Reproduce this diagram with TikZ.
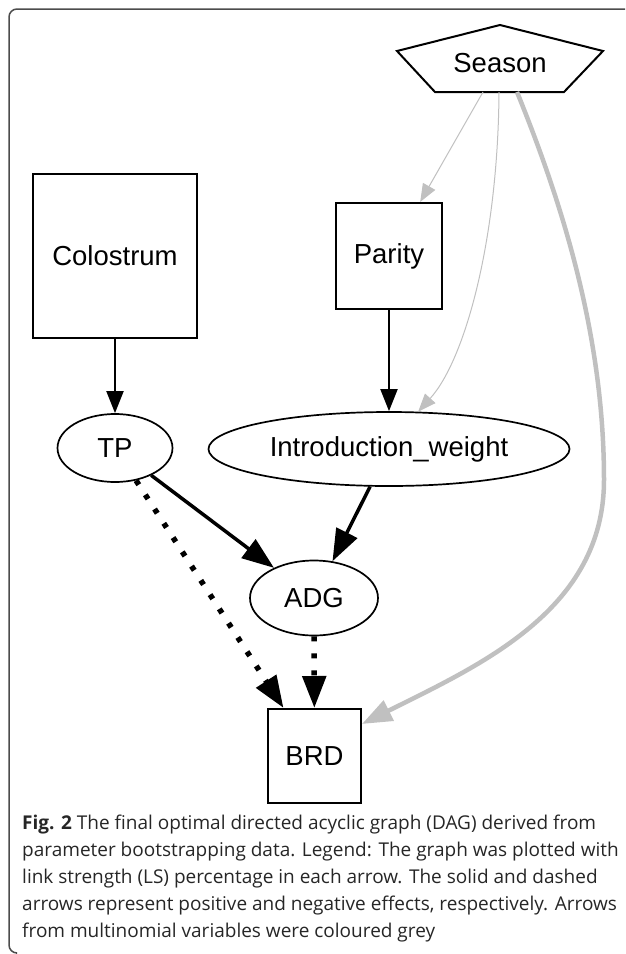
\documentclass[tikz,border=0pt]{standalone}
\usepackage{fontspec}
\setmainfont{Liberation Sans}
\newfontfamily\captionfont{Open Sans}
\usetikzlibrary{positioning,arrows.meta,shapes.geometric}
\definecolor{edgegrey}{RGB}{192,192,192}
\tikzstyle{box} = [draw, line width=2pt, inner sep=0pt, font=\fontsize{27.5}{30}\selectfont]
\tikzstyle{oval} = [draw, ellipse, line width=1.7pt, inner sep=0pt, font=\fontsize{27.5}{30}\selectfont]
\tikzstyle{plain} = [line width=2pt, -{Triangle[length=22pt,width=17pt]}]
\tikzstyle{strong} = [line width=3.5pt, -{Triangle[length=32pt,width=23pt]}]
\tikzstyle{negative} = [line width=5.5pt, dash pattern=on 5pt off 12pt, -{Triangle[length=32pt,width=23pt]}]
\tikzstyle{multi} = [edgegrey, line width=1pt, -{Triangle[length=18pt,width=14pt]}]
\tikzstyle{multistrong} = [edgegrey, line width=4.5pt, -{Triangle[length=30pt,width=22pt]}]

\begin{document}
\begin{tikzpicture}[x=1pt, y=-1pt]
        \useasboundingbox (0,0) rectangle (625,954);
        %Frame
        \draw[line width=1.5pt, black!70, rounded corners=8pt] (625,9) -- (9,9) -- (9,953) -- (16,953);
        %Blocks
        \node (Season) at (500,63) [font=\fontsize{27.5}{30}\selectfont] {Season};
        \draw[line width=2pt] (Season) ++(0,-38) -- ++(103,26) -- ++(-39,41) -- ++(-129,0) -- ++(-38,-41) -- cycle;
        \coordinate (seasonA) at (483,92);
        \coordinate (seasonB) at (499,92);
        \coordinate (seasonC) at (517,92);
        \node [box, minimum width=164pt, minimum height=164pt] (Colostrum) at (115,256) {Colostrum};
        \node [box, minimum width=106pt, minimum height=106pt] (Parity) at (389,256) {Parity};
        \node [oval, minimum width=115pt, minimum height=68pt] (TP) at (115,448) {TP};
        \node [oval, minimum width=361pt, minimum height=74pt] (Intro) at (389,449) {Introduction\_weight};
        \node [oval, minimum width=128pt, minimum height=75pt] (ADG) at (314,598) {ADG};
        \node [box, minimum width=93pt, minimum height=94pt] (BRD) at (314.5,756) {BRD};
        %Arrows
        \draw[plain] (Colostrum) -- (TP);
        \draw[plain] (Parity) -- (Intro);
        \draw[strong] (TP) -- (ADG);
        \draw[strong] (Intro) -- (ADG);
        \draw[negative] (TP) -- (BRD);
        \draw[negative] (ADG) -- (BRD);
        \draw[multi] (seasonA) -- (Parity.60);
        \draw[multi] (seasonB) .. controls (498,240) and (465,360) .. (Intro.52);
        \draw[multistrong] (seasonC) .. controls (565,210) and (604,340) .. (604,480)
            .. controls (604,610) and (480,665) .. (BRD.34);
        %Caption
        \node [anchor=north west, align=left, inner sep=0pt, text=black!85,
               font=\captionfont\fontsize{19}{27}\selectfont] (caption) at (22,815)
            {\textbf{Fig. 2} The final optimal directed acyclic graph (DAG) derived from\\
             parameter bootstrapping data. Legend: The graph was plotted with\\
             link strength (LS) percentage in each arrow. The solid and dashed\\
             arrows represent positive and negative effects, respectively. Arrows\\
             from multinomial variables were coloured grey};
\end{tikzpicture}
\end{document}
